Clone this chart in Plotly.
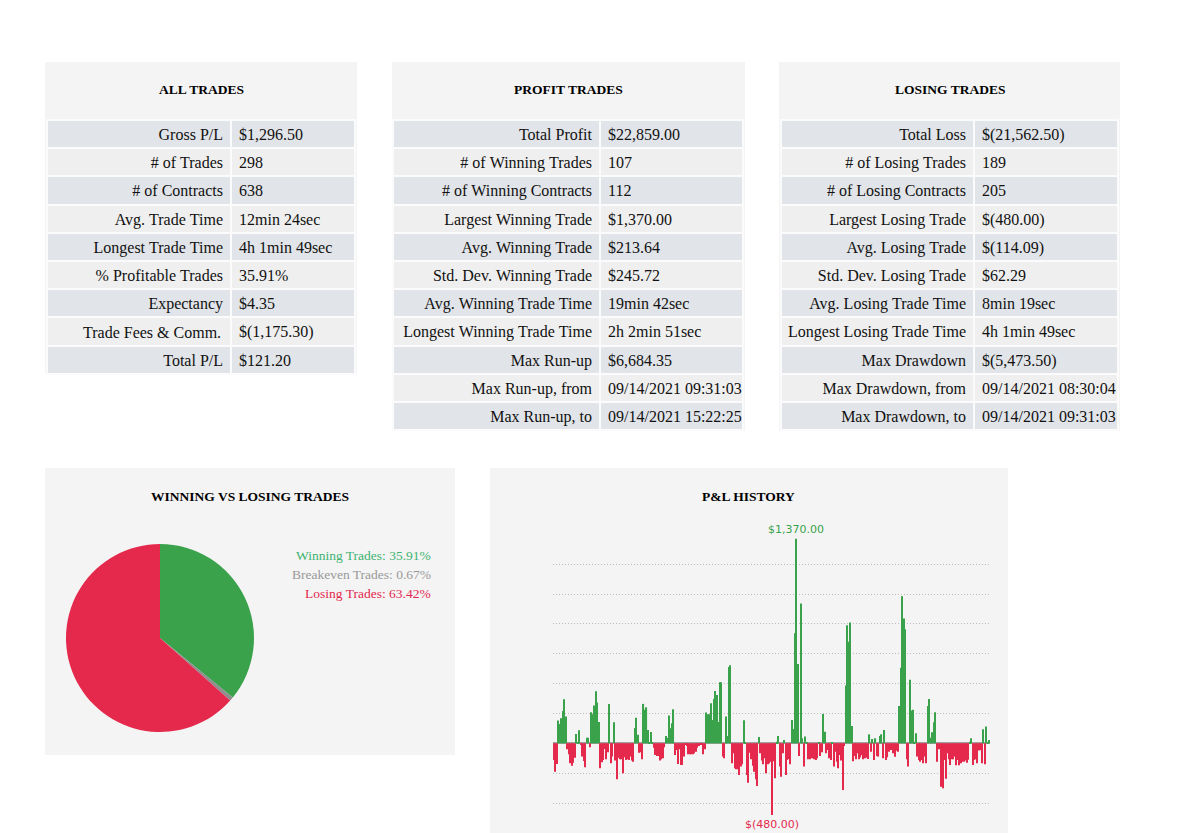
import plotly.graph_objects as go

OFF = 8
FW, FH = 1176, 825

# ---------------- data ----------------
all_labels = ["Gross P/L", "# of Trades", "# of Contracts", "Avg. Trade Time", "Longest Trade Time",
              "% Profitable Trades", "Expectancy", "Trade Fees & Comm.", "Total P/L"]
all_values = ["$1,296.50", "298", "638", "12min 24sec", "4h 1min 49sec", "35.91%", "$4.35",
              "$(1,175.30)", "$121.20"]

profit_labels = ["Total Profit", "# of Winning Trades", "# of Winning Contracts", "Largest Winning Trade",
                 "Avg. Winning Trade", "Std. Dev. Winning Trade", "Avg. Winning Trade Time",
                 "Longest Winning Trade Time", "Max Run-up", "Max Run-up, from", "Max Run-up, to"]
profit_values = ["$22,859.00", "107", "112", "$1,370.00", "$213.64", "$245.72", "19min 42sec",
                 "2h 2min 51sec", "$6,684.35", "09/14/2021 09:31:03", "09/14/2021 15:22:25"]

losing_labels = ["Total Loss", "# of Losing Trades", "# of Losing Contracts", "Largest Losing Trade",
                 "Avg. Losing Trade", "Std. Dev. Losing Trade", "Avg. Losing Trade Time",
                 "Longest Losing Trade Time", "Max Drawdown", "Max Drawdown, from", "Max Drawdown, to"]
losing_values = ["$(21,562.50)", "189", "205", "$(480.00)", "$(114.09)", "$62.29", "8min 19sec",
                 "4h 1min 49sec", "$(5,473.50)", "09/14/2021 08:30:04", "09/14/2021 09:31:03"]

pie_labels = ["Winning Trades", "Breakeven Trades", "Losing Trades"]
pie_counts = [107, 2, 189]

pnl_values = [
    -112, -190, -138,
    152, 130, 168, 217, 295, 179,
    -40, -74, -134, -150, -130, -96,
    63, 5, 87,
    -11, -89, -118, -161,
    38, 38, -27,
    208, 194, 253, 349, 273, 143,
    -168, -127, -112, -38, -107, -60,
    264, -134, -89, 141,
    -116, -241, -96, -107, -107, -201, -94, -112, -107, -112, -89, -116, -123,
    103, 172, 58,
    -63, -60, -107,
    264, 224, 241, 89, 7, 76, 7,
    -29, -78, -85, -85, -116, -107, -100, -27,
    49, 36, 186, 101, 134, 228,
    -78, -45, -139, -40, -145, -145, -89, -11, -18, -74, -74, -74, -74, -67, -56, -29, -18, -11, -11, -74, -40,
    206, 194, 194, 268, 156, 297, 351, 324, 143, 409, 409,
    -89, -100, 179, 49, 512, 523,
    -134, -67, -168, -174, -174, -212, -156, -140,
    154, 9,
    -212, -264, -63, -107, -150, -190, -241, -286, 42, -67, -116, -141, -100, -201, -141, -134, -123, -480,
    -120, -235, 11, 49, -156, -224, -67, 22, -212, -112, -105, -141,
    156, 96, 738, 1370, 532, -85, 936,
    34, -156, 45, 9, -107, -107, -100, -100, -107, -112, -100, 9, -85, -60,
    197, 78, -67, -45, -100, -112, 9, -156, -56, -123, -168, -78, -116, -313, -18,
    387, 791, 680, 809, 116,
    -120, -85, -107, -67, -107, -94, -78, -107, -100, -96, -105,
    60, -56, 29, -112, 34, -85, -89, 49, 60, -100,
    89, -112, -94, -56, -45, -45, -67, -90, -50, -56,
    250, 507, 986, 836, 764, -107, -156, 425, 219, 224, 11, 67,
    -89, -112, -123, -112, -134, -89, -134,
    250, 297, 38, 74, 141, 208,
    -123, -40, -40, -291, -302, -112, -237, -67, -107, -145, -107, -107, -89, -147, -112, -147, -134, -123,
    -123, -116, -130, -110,
    11, 34,
    -145, -112, -107, -134, -49, -45, -134, 94, -141, 112, 9, 22,
]
grid_values = [-400, -200, 0, 200, 400, 600, 800, 1000, 1200]

# ---------------- styles ----------------
SERIF = "Liberation Serif"
PANEL = "#f4f4f4"
ROW_A = "#e1e4e8"
ROW_B = "#efefef"
GREEN = "#3aa24b"
RED = "#e5294d"
GRAY = "#8e8e8e"
TEXT = "#111111"
NB = "\u00a0"
CELL_PAD = 8  # plotly table's fixed horizontal cell padding


def px(x):
    return (x - OFF) / FW


def py(y):
    return 1 - (y - OFF) / FH


def money(v):
    return f"${v:,.2f}" if v >= 0 else f"$({-v:,.2f})"


fig = go.Figure()

shapes = []
annotations = []


def panel(x0, y0, x1, y1, title, tx, ty):
    shapes.append(dict(type="rect", xref="paper", yref="paper", x0=px(x0), x1=px(x1),
                       y0=py(y1), y1=py(y0), fillcolor=PANEL, line=dict(width=0), layer="below"))
    annotations.append(dict(text=f"<b>{title}</b>", xref="paper", yref="paper", x=px(tx), y=py(ty),
                            xanchor="center", yanchor="middle", showarrow=False,
                            font=dict(family=SERIF, size=13.5, color="#000000")))


panel(45, 62, 357, 374, "ALL TRADES", 201, 90)
panel(392, 62, 745, 431, "PROFIT TRADES", 568, 90)
panel(779, 62, 1120, 431, "LOSING TRADES", 950, 90)
panel(45, 468, 455, 755, "WINNING VS LOSING TRADES", 250, 496)
panel(490, 468, 1008, 850, "P&amp;L HISTORY", 749, 496)

HEADER_PX = 16
ROW_H = 28.2


def table(labels, values, x0, x1, xdiv, y0):
    n = len(labels)
    fills = [ROW_A if i % 2 == 0 else ROW_B for i in range(n)]
    lab, val = [], []
    for i, s in enumerate(labels):
        if "&" in s:
            # plotly grows rows whose text contains markup characters; place this label as an overlay
            lab.append("")
            annotations.append(dict(text=s.replace("&", "&amp;"), xref="paper", yref="paper",
                                    x=px(xdiv - CELL_PAD), y=py(y0 + (i + 0.5) * ROW_H + 0.5),
                                    xanchor="right", yanchor="middle", showarrow=False,
                                    font=dict(family=SERIF, size=16, color=TEXT)))
        else:
            lab.append(s.replace(" ", NB))
    for s in values:
        val.append(s.replace(" ", NB))
    fig.add_trace(go.Table(
        domain=dict(x=[px(x0), px(x1)], y=[py(y0 + n * ROW_H + 6), py(y0 - HEADER_PX)]),
        columnwidth=[xdiv - x0, x1 - xdiv],
        header=dict(values=[], height=1, fill=dict(color="rgba(0,0,0,0)"),
                    line=dict(width=0)),
        cells=dict(values=[lab, val], align=["right", "left"], height=ROW_H,
                   fill=dict(color=[fills, fills]),
                   line=dict(color="#fbfbfb", width=2),
                   font=dict(family=SERIF, size=16, color=TEXT)),
    ))


table(all_labels, all_values, 47, 355, 231, 120)
table(profit_labels, profit_values, 393, 743, 600, 120)
table(losing_labels, losing_values, 781, 1118, 974, 120)

# ---------------- pie ----------------
fig.add_trace(go.Pie(
    labels=pie_labels, values=pie_counts, sort=False, direction="clockwise", rotation=0,
    marker=dict(colors=[GREEN, GRAY, RED], line=dict(width=0)),
    textinfo="none", hoverinfo="label+percent", showlegend=False,
    domain=dict(x=[px(66), px(254)], y=[py(732), py(544)]),
))
total = sum(pie_counts)
legend_colors = ["#3cb371", "#999999", "#e3274f"]
for i, (lab, cnt) in enumerate(zip(pie_labels, pie_counts)):
    annotations.append(dict(text=f"{lab}: {100 * cnt / total:.2f}%", xref="paper", yref="paper",
                            x=px(433), y=py(555 + 19 * i), xanchor="right", yanchor="middle",
                            showarrow=False, font=dict(family=SERIF, size=13.5, color=legend_colors[i])))

# ---------------- P&L history ----------------
xs = list(range(len(pnl_values)))
colors = [GREEN if v >= 0 else RED for v in pnl_values]
fig.add_trace(go.Bar(x=xs, y=pnl_values, marker=dict(color=colors, line=dict(width=0)),
                     xaxis="x", yaxis="y", showlegend=False,
                     hovertemplate="%{y}<extra></extra>"))

imax = max(xs, key=lambda i: pnl_values[i])
imin = min(xs, key=lambda i: pnl_values[i])
annotations.append(dict(text=money(pnl_values[imax]), x=imax, y=pnl_values[imax], xref="x", yref="y",
                        yanchor="bottom", yshift=1, showarrow=False,
                        font=dict(family="DejaVu Sans", size=11, color="#3aa24b")))
annotations.append(dict(text=money(pnl_values[imin]), x=imin, y=pnl_values[imin], xref="x", yref="y",
                        yanchor="top", yshift=-1, showarrow=False,
                        font=dict(family="DejaVu Sans", size=11, color="#e5294d")))

zero_px = 743.3
dollars_per_px = 6.7
top_px = 520
bot_px = OFF + FH
y_top = (zero_px - top_px) * dollars_per_px
y_bot = -(bot_px - zero_px) * dollars_per_px

fig.update_layout(
    width=FW, height=FH, margin=dict(l=0, r=0, t=0, b=0),
    paper_bgcolor="#ffffff", plot_bgcolor="rgba(0,0,0,0)",
    shapes=shapes, annotations=annotations,
    bargap=0.25,
    xaxis=dict(domain=[px(553), px(990)], range=[-0.5, len(pnl_values) - 0.5],
               showgrid=False, zeroline=False, showticklabels=False, ticks="", fixedrange=True),
    yaxis=dict(domain=[0, py(top_px)], range=[y_bot, y_top], tickmode="array", tickvals=grid_values,
               showticklabels=False, ticks="", showgrid=True, gridcolor="#bdbdbd", griddash="1px,2px",
               gridwidth=1, zeroline=True, zerolinecolor="#a0a0a0", zerolinewidth=1.5,
               fixedrange=True),
    font=dict(family=SERIF),
)

fig.write_html("out.html")
